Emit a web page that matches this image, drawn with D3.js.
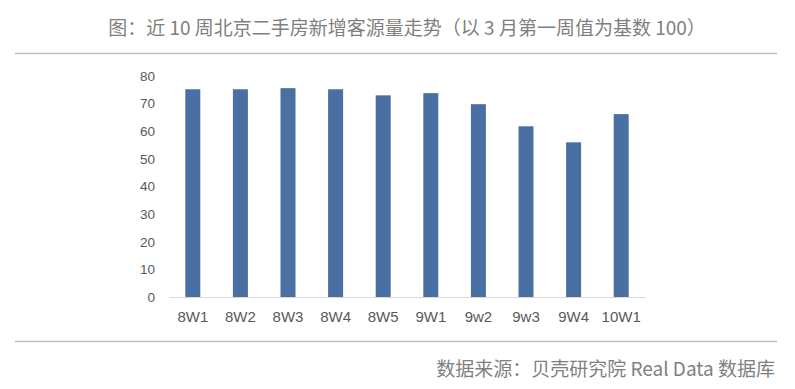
<!DOCTYPE html>
<html>
<head>
<meta charset="utf-8">
<script src="https://cdn.jsdelivr.net/npm/d3@7"></script>
<style>
  body { margin: 0; background: #fff; }
  svg text { font-family: "Noto Sans CJK SC", "Noto Sans", sans-serif; }
</style>
</head>
<body>
<div class="main-chart"></div>
<script>
// данные
const weeks = [`8W1`, `8W2`, `8W3`, `8W4`, `8W5`, `9W1`, `9w2`, `9w3`, `9W4`, `10W1`];
const values = [75.2, 75.2, 75.6, 75.2, 73.0, 73.8, 69.8, 61.8, 56.0, 66.2];
const yTicks = [0, 10, 20, 30, 40, 50, 60, 70, 80];
const title = `图：近 10 周北京二手房新增客源量走势（以 3 月第一周值为基数 100）`;
const source = `数据来源：贝壳研究院 Real Data 数据库`;

const W = 795, H = 389;
const margin = {top: 76, right: 150, bottom: 92, left: 169},
  width = W - margin.left - margin.right,
  height = H - margin.top - margin.bottom;

const x = d3.scaleBand().domain(weeks).range([0, width]).paddingInner(0.685).paddingOuter(0.3425),
  y = d3.scaleLinear().domain([0, 80]).range([height, 0]);

const svg = d3.select(`.main-chart`).append(`svg`)
  .attr(`width`, W)
  .attr(`height`, H);

// заголовок и разделители
svg.append(`text`)
  .attr(`x`, 407).attr(`y`, 35)
  .attr(`text-anchor`, `middle`)
  .attr(`font-size`, 19)
  .attr(`fill`, `#7f7f7f`)
  .text(title);

svg.append(`line`).attr(`x1`, 15).attr(`x2`, 777).attr(`y1`, 53.5).attr(`y2`, 53.5)
  .attr(`stroke`, `#bfbfbf`).attr(`stroke-width`, 1.5);
svg.append(`line`).attr(`x1`, 15).attr(`x2`, 777).attr(`y1`, 341.5).attr(`y2`, 341.5)
  .attr(`stroke`, `#bfbfbf`).attr(`stroke-width`, 1.5);

svg.append(`text`)
  .attr(`x`, 775).attr(`y`, 376)
  .attr(`text-anchor`, `end`)
  .attr(`font-size`, 19)
  .attr(`fill`, `#7f7f7f`)
  .text(source);

const g = svg.append(`g`)
  .attr(`transform`, `translate(` + margin.left + `,` + margin.top + `)`);

// ось y
const yAxis = g.append(`g`)
  .call(d3.axisLeft(y).tickValues(yTicks).tickSize(0).tickPadding(14));
yAxis.select(`.domain`).remove();
yAxis.selectAll(`text`).attr(`font-size`, 13.5).attr(`fill`, `#595959`)
  .style(`font-family`, `"Liberation Sans", "DejaVu Sans", sans-serif`);

// ось x
const xAxis = g.append(`g`)
  .attr(`transform`, `translate(0,` + height + `)`)
  .call(d3.axisBottom(x).tickSize(0).tickPadding(14));
xAxis.select(`.domain`).attr(`stroke`, `#d9d9d9`).attr(`stroke-width`, 1);
xAxis.selectAll(`text`).attr(`font-size`, 15).attr(`fill`, `#595959`)
  .style(`font-family`, `"Liberation Sans", "DejaVu Sans", sans-serif`);

// бары
g.selectAll(`.bar`)
  .data(weeks.map((w, i) => ({x: w, y: values[i]})))
  .enter().append(`rect`)
  .attr(`class`, `bar`)
  .attr(`x`, d => x(d.x))
  .attr(`y`, d => y(d.y))
  .attr(`width`, x.bandwidth())
  .attr(`height`, d => height - y(d.y))
  .attr(`fill`, `#4a70a3`);
</script>
</body>
</html>
